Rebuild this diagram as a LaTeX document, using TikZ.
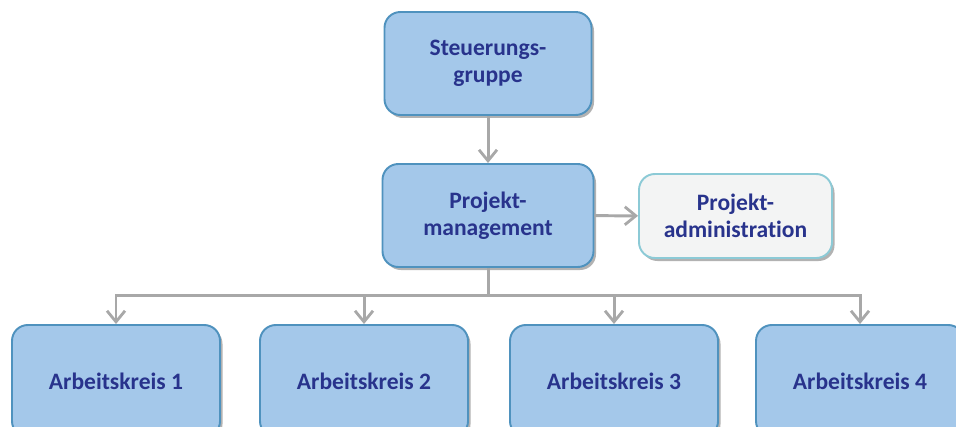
\documentclass[tikz,border=0pt]{standalone}
\usepackage{fontspec}
\setmainfont[Ligatures=NoCommon]{Carlito}
\usepackage{xcolor}
\definecolor{orgBlauFill}{HTML}{A4C8EA}
\definecolor{orgBlauRand}{HTML}{4F92BE}
\definecolor{orgHellFill}{HTML}{F3F4F4}
\definecolor{orgHellRand}{HTML}{8CCAD6}
\definecolor{orgText}{HTML}{28338C}
\definecolor{orgGrau}{HTML}{A8A8A8}
\usetikzlibrary{arrows.meta, positioning, calc, shadows}
\tikzset{
  %% ── Kaesten ──────────────────────────────────────────────────────────
  %% Blau fuer die Gremien, hell fuer die Stabsstelle daneben.
  kasten/.style     = {draw=orgBlauRand, line width=1.1pt, rounded corners=9pt,
                       fill=orgBlauFill, text=orgText, align=center,
                       font=\fontsize{13.4}{15.5}\selectfont\bfseries,
                       drop shadow={shadow xshift=0.05cm, shadow yshift=-0.06cm,
                                    fill=black, opacity=0.30}},
  kastenHell/.style = {kasten, fill=orgHellFill, draw=orgHellRand},
  %%
  %% ── Pfeile ───────────────────────────────────────────────────────────
  pfeil/.style      = {-{Straight Barb[length=2.2mm, width=3.6mm, line width=1.6pt]},
                       draw=orgGrau, line width=1.7pt},
}

\begin{document}
\begin{tikzpicture}[x=1cm, y=1cm]

%% Rahmen: 956 x 426 Pixel, 0,02 cm je Pixel.
\useasboundingbox (0,0) rectangle (19.12,-8.52);

%% Die oberen Ebenen.
\node[kasten, minimum width=4.14cm, minimum height=2.06cm] (sg) at (9.76,-1.27)
     {Steuerungs-\\gruppe};
\node[kasten, minimum width=4.22cm, minimum height=2.06cm] (pm) at (9.76,-4.31)
     {Projekt-\\management};
\node[kastenHell, minimum width=3.86cm, minimum height=1.68cm] (pa) at (14.71,-4.32)
     {Projekt-\\administration};

%% Die vier Arbeitskreise, unten angeschnitten.
\foreach \i/\x in {1/2.32, 2/7.28, 3/12.28, 4/17.20}
  \node[kasten, minimum width=4.16cm, minimum height=2.24cm] (ak\i) at (\x,-7.62)
       {Arbeitskreis \i};

%% Verbindungen.
\draw[pfeil] (sg) -- (pm);
\draw[pfeil] (pm) -- (pa);
\coordinate (bus) at ($(pm.south)+(0,-0.56)$);
\foreach \i in {1,2,3,4}
  \draw[pfeil] (pm.south) -- (bus) -| (ak\i.north);

\end{tikzpicture}
\end{document}
